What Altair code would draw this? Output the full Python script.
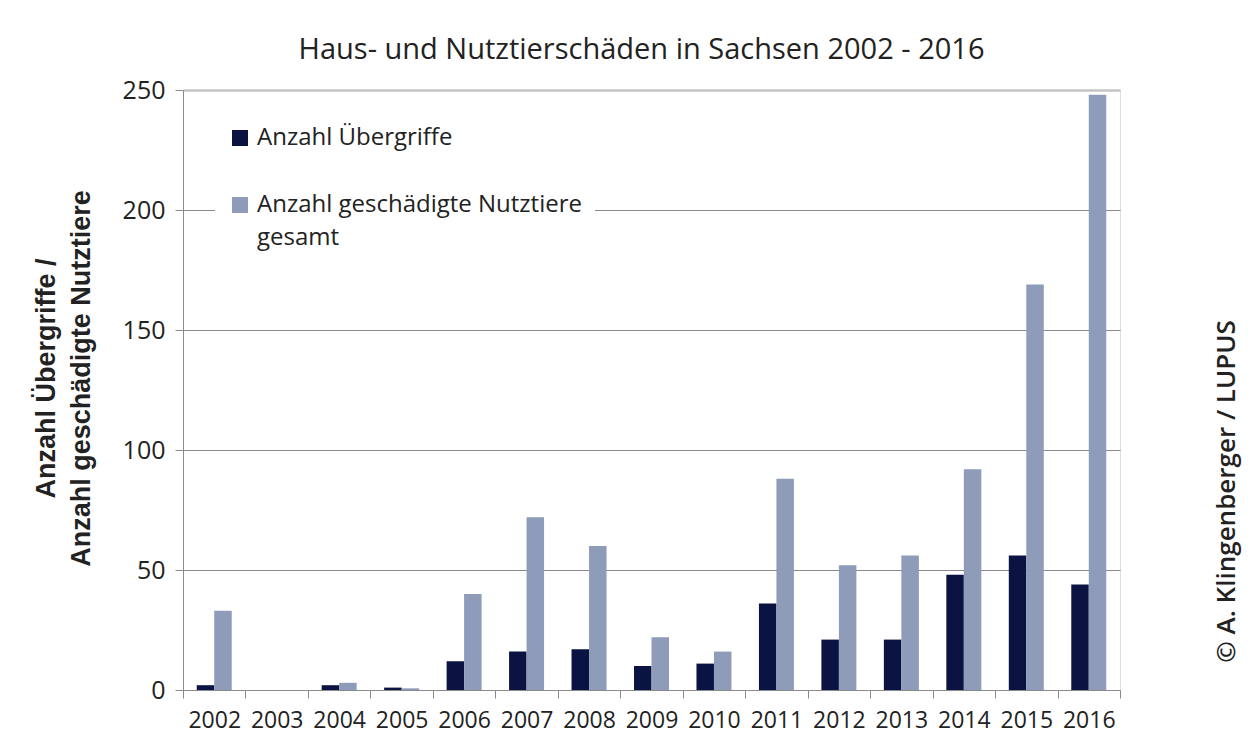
import altair as alt
import pandas as pd

# ---- data ----
years = [str(y) for y in range(2002, 2017)]
uebergriffe = [2, 0, 2, 1, 12, 16, 17, 10, 11, 36, 21, 21, 48, 56, 44]
nutztiere = [33, 0, 3, 0.7, 40, 72, 60, 22, 16, 88, 52, 56, 92, 169, 248]
series = ["Anzahl Übergriffe", "Anzahl geschädigte Nutztiere gesamt"]
colors = ["#0b1342", "#8e9cba"]
y_ticks = [0, 50, 100, 150, 200, 250]
title_text = "Haus- und Nutztierschäden in Sachsen 2002 - 2016"
y_title = ["Anzahl Übergriffe /", "Anzahl geschädigte Nutztiere"]
copyright_text = "© A. Klingenberger / LUPUS"

rows = []
for i, yr in enumerate(years):
    rows.append({"Jahr": yr, "Serie": series[0], "Wert": uebergriffe[i]})
    rows.append({"Jahr": yr, "Serie": series[1], "Wert": nutztiere[i]})
df = pd.DataFrame(rows)

FONT = "Open Sans"
TXT = "#222222"
AX = "#8a8a8a"

y_scale = alt.Scale(domain=[0, 250], nice=False)
x_enc = alt.X(
    "Jahr:N", sort=years, scale=alt.Scale(paddingInner=0, paddingOuter=0),
    axis=alt.Axis(title=None, tickBand="extent", labelFont=FONT, labelFontSize=23,
                  labelColor=TXT, labelPadding=11, tickSize=8, tickColor=AX,
                  domainColor=AX, labelAngle=0, grid=False),
)

bars = alt.Chart(df).mark_bar().encode(
    x=x_enc,
    xOffset=alt.XOffset("Serie:N", sort=series,
                        scale=alt.Scale(paddingInner=0, paddingOuter=0.785)),
    y=alt.Y(
        "Wert:Q", scale=y_scale,
        axis=alt.Axis(
            values=y_ticks, title=y_title, titleFont="Liberation Sans",
            titleFontWeight="bold", titleFontSize=27, titleLineHeight=35,
            titleColor=TXT, titleAngle=270, titleX=-123, titleY=288,
            titleBaseline="bottom", titleAlign="center",
            labelFont=FONT, labelFontSize=25, labelColor=TXT, labelPadding=10,
            tickSize=8, tickColor=AX, domainColor=AX,
            gridColor={"condition": {"test": "datum.value === 250", "value": "#c4c4c4"}, "value": AX},
            gridWidth={"condition": {"test": "datum.value === 250", "value": 2.5}, "value": 1},
        ),
    ),
    color=alt.Color(
        "Serie:N", sort=series, scale=alt.Scale(domain=series, range=colors),
        legend=alt.Legend(
            title=None, orient="none", legendX=32, legendY=23, fillColor="white",
            padding=13, symbolType="square", symbolSize=256, symbolStrokeWidth=0,
            labelFont=FONT, labelFontSize=24, labelColor=TXT, labelLimit=600,
            labelOffset=5, rowPadding=43, labelBaseline="middle",
            labelExpr="datum.label == 'Anzahl geschädigte Nutztiere gesamt' ? ['Anzahl geschädigte Nutztiere', 'gesamt'] : datum.label",
        ),
    ),
)

credit = alt.Chart(df).mark_point(opacity=0, size=0).encode(
    x=x_enc,
    y=alt.Y(
        "Wert:Q", scale=y_scale,
        axis=alt.Axis(orient="right", title=copyright_text, labels=False, ticks=False,
                      domain=False, grid=False, titleAngle=270, titleX=106, titleY=401,
                      titleBaseline="middle", titleAlign="center", titleFont=FONT,
                      titleFontWeight=600, titleFontSize=26, titleColor=TXT),
    ),
)

chart = (
    alt.layer(bars, credit)
    .resolve_axis(y="independent")
    .properties(
        width=937, height=600,
        padding={"left": 175, "top": 82, "right": 125, "bottom": 52},
        autosize=alt.AutoSizeParams(type="none"),
        title=alt.Title(title_text, font=FONT, fontSize=29, fontWeight="normal",
                        color=TXT, anchor="middle", dx=-10, dy=30, offset=20,
                        baseline="alphabetic"),
    )
    .configure_view(stroke=None)
    .configure(background="white", style={"guide-label": {"lineHeight": 33}})
)

chart.save("out.html", embed_options={"renderer": "svg", "actions": False})
